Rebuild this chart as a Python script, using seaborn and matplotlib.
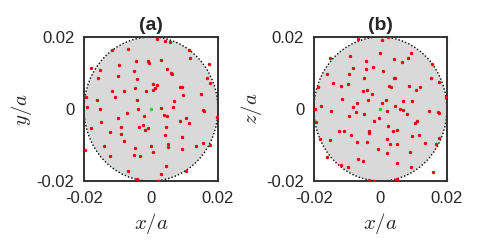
import matplotlib
matplotlib.use("Agg")
import matplotlib.pyplot as plt
import pandas as pd
import seaborn as sns
from matplotlib.patches import Circle

# disk radius and axis limits (in units of a)
RADIUS = 0.02
TICKS = [-0.02, 0, 0.02]
TICK_LABELS = ["-0.02", "0", "0.02"]
CENTER_X = [0.0]
CENTER_Y = [0.0]

# panel (a): x-y plane
A_X = [0.0018, 0.0041, 0.0058, -0.0117, -0.0069, 0.0115, 0.0118, -0.0178, -0.0151, -0.0094,
       -0.0044, -0.0010, -0.0006, 0.0030, -0.0052, 0.0049, 0.0061, 0.0063, 0.0174, -0.0159,
       -0.0097, -0.0041, 0.0167, 0.0175, 0.0006, 0.0018, 0.0087, 0.0092, -0.0115, -0.0080,
       -0.0048, -0.0016, 0.0007, 0.0012, -0.0108, -0.0193, -0.0161, -0.0043, 0.0096, 0.0148,
       0.0069, -0.0191, -0.0152, -0.0071, -0.0040, 0.0031, 0.0065, 0.0155, 0.0159, 0.0196,
       -0.0098, -0.0022, 0.0039, 0.0048, 0.0106, -0.0180, -0.0149, -0.0089, -0.0035, -0.0024,
       -0.0017, -0.0009, 0.0046, 0.0087, 0.0113, -0.0121, -0.0089, -0.0080, 0.0041, 0.0093,
       0.0050, 0.0051, -0.0140, -0.0048, 0.0001, 0.0005, 0.0094, 0.0134, 0.0154, 0.0177,
       -0.0197, -0.0123, -0.0050, -0.0033, 0.0045, 0.0030, 0.0105, -0.0070, -0.0043, 0.0020]
A_Y = [0.0195, 0.0188, 0.0186, 0.0164, 0.0166, 0.0165, 0.0143, 0.0113, 0.0107, 0.0122,
       0.0134, 0.0133, 0.0128, 0.0135, 0.0105, 0.0110, 0.0099, 0.0097, 0.0125, 0.0087,
       0.0092, 0.0083, 0.0087, 0.0071, 0.0069, 0.0068, 0.0061, 0.0062, 0.0049, 0.0051,
       0.0058, 0.0051, 0.0054, 0.0057, 0.0033, 0.0034, 0.0024, 0.0026, 0.0039, 0.0041,
       0.0021, 0.0006, 0.0000, -0.0011, 0.0001, 0.0003, 0.0005, -0.0002, -0.0005, -0.0023,
       -0.0026, -0.0018, -0.0016, -0.0019, -0.0024, -0.0053, -0.0037, -0.0051, -0.0049, -0.0045,
       -0.0059, -0.0053, -0.0049, -0.0034, -0.0038, -0.0065, -0.0069, -0.0089, -0.0072, -0.0077,
       -0.0096, -0.0105, -0.0102, -0.0107, -0.0102, -0.0118, -0.0110, -0.0103, -0.0095, -0.0101,
       -0.0114, -0.0131, -0.0127, -0.0130, -0.0157, -0.0180, -0.0173, -0.0173, -0.0195, -0.0200]

# panel (b): x-z plane
B_X = [-0.0068, 0.0006, 0.0022, -0.0152, -0.0090, 0.0000, 0.0093, 0.0082, 0.0041, 0.0065,
       -0.0044, 0.0156, -0.0081, -0.0043, -0.0022, 0.0007, -0.0161, -0.0095, -0.0048, 0.0040,
       0.0045, 0.0153, -0.0142, -0.0097, -0.0118, -0.0189, 0.0027, 0.0031, 0.0087, 0.0118,
       0.0108, 0.0177, -0.0053, -0.0040, -0.0024, -0.0116, -0.0036, 0.0017, -0.0070, -0.0081,
       0.0005, 0.0045, 0.0069, 0.0094, -0.0178, -0.0148, -0.0072, -0.0198, 0.0020, 0.0059,
       0.0068, 0.0147, 0.0174, 0.0177, 0.0197, -0.0093, -0.0048, 0.0079, -0.0005, -0.0018,
       -0.0193, 0.0110, 0.0105, 0.0022, -0.0125, -0.0110, -0.0034, -0.0033, 0.0039, 0.0050,
       -0.0089, 0.0096, 0.0116, -0.0181, -0.0152, -0.0070, -0.0041, 0.0019, 0.0028, 0.0049,
       0.0134, 0.0166, 0.0176, -0.0008, 0.0088, 0.0021, -0.0160, -0.0068, -0.0051, -0.0120,
       -0.0097, 0.0050, 0.0092, 0.0159, -0.0035, -0.0018, 0.0050]
B_Z = [0.0195, 0.0192, 0.0200, 0.0142, 0.0148, 0.0156, 0.0156, 0.0141, 0.0139, 0.0130,
       0.0132, 0.0126, 0.0115, 0.0111, 0.0117, 0.0105, 0.0097, 0.0098, 0.0086, 0.0086,
       0.0085, 0.0086, 0.0072, 0.0069, 0.0065, 0.0060, 0.0063, 0.0060, 0.0064, 0.0061,
       0.0053, 0.0074, 0.0049, 0.0053, 0.0041, 0.0027, 0.0024, 0.0024, 0.0018, 0.0007,
       0.0017, 0.0009, 0.0023, 0.0022, 0.0009, -0.0006, -0.0007, 0.0000, -0.0006, -0.0001,
       -0.0002, -0.0006, -0.0009, -0.0012, 0.0033, -0.0020, -0.0015, -0.0015, -0.0025, -0.0032,
       -0.0035, -0.0033, -0.0039, -0.0048, -0.0061, -0.0060, -0.0060, -0.0067, -0.0060, -0.0057,
       -0.0073, -0.0075, -0.0073, -0.0084, -0.0087, -0.0092, -0.0092, -0.0083, -0.0098, -0.0098,
       -0.0093, -0.0096, -0.0080, -0.0112, -0.0119, -0.0123, -0.0133, -0.0138, -0.0143, -0.0155,
       -0.0161, -0.0150, -0.0161, -0.0174, -0.0196, -0.0200, -0.0195]

sns.set_style("white")
plt.rcParams["font.family"] = ["Liberation Sans", "DejaVu Sans"]
plt.rcParams["mathtext.fontset"] = "cm"

FRAME = "#333333"


def draw_panel(ax, xs, ys, title, ylabel):
    ax.add_patch(Circle((0, 0), RADIUS, facecolor="#d9d9d9", edgecolor="black",
                        linestyle=(0, (1, 1.5)), linewidth=1.0, zorder=1))
    df = pd.DataFrame({"h": xs, "v": ys})
    sns.scatterplot(data=df, x="h", y="v", ax=ax, color="#e8000b", s=6,
                    linewidth=0, marker="o", zorder=3, legend=False)
    sns.scatterplot(x=CENTER_X, y=CENTER_Y, ax=ax, color="#22cc22", s=6,
                    linewidth=0, zorder=4, legend=False)
    ax.set_xlim(-RADIUS, RADIUS)
    ax.set_ylim(-RADIUS, RADIUS)
    ax.set_xticks(TICKS)
    ax.set_xticklabels(TICK_LABELS)
    ax.set_yticks(TICKS)
    ax.set_yticklabels(TICK_LABELS)
    ax.tick_params(direction="in", length=3, width=0.8, color=FRAME,
                   labelsize=12, labelcolor="#262626", pad=7,
                   top=True, right=True, bottom=True, left=True)
    for sp in ax.spines.values():
        sp.set_visible(True)
        sp.set_color(FRAME)
        sp.set_linewidth(1.4)
    ax.set_title(title, fontsize=14, fontweight="bold", pad=5)
    ax.set_xlabel(r"$x/a$", fontsize=15, labelpad=4)
    ax.set_ylabel(ylabel, fontsize=15, labelpad=2)


fig = plt.figure(figsize=(4.8, 2.45), dpi=100)
ax_a = fig.add_axes([0.175, 0.261, 0.279, 0.588])
ax_b = fig.add_axes([0.654, 0.261, 0.277, 0.588])

draw_panel(ax_a, A_X, A_Y, "(a)", r"$y/a$")
draw_panel(ax_b, B_X, B_Z, "(b)", r"$z/a$")

fig.savefig("out.png", dpi=100)
